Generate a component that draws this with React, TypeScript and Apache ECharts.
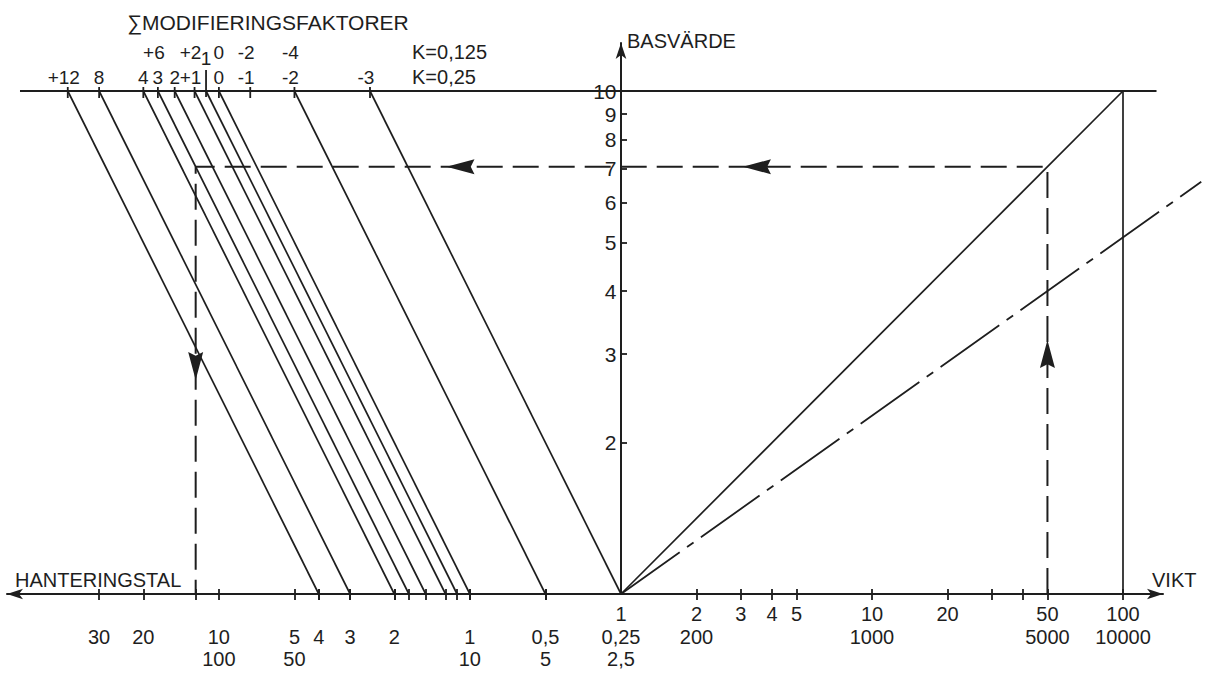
import { useEffect, useRef } from 'react';
import * as echarts from 'echarts';

// Σ modifier values printed above the top line, one row per K
const MOD_K025 = ['+12', '8', '4', '3', '2', '+1', '0', '-1', '-2', '-3'];
const MOD_K0125 = ['+6', '+2', '1', '0', '-2', '-4'];
const K_HIGH = 0.25;
const K_LOW = 0.125;

// Factors (1 + K·Σ) that have a guide line drawn across the left half
const LINE_FACTORS = [4, 3, 2, 1.75, 1.5, 1.25, 1.125, 1, 0.5, 0.25];

// Hanteringstal scale (left, reversed) and its second reading
const H_LABELS = [30, 20, 10, 5, 4, 3, 2, 1, 0.5, 0.25];
const H_ALT: Record<string, number> = { '10': 100, '5': 50, '1': 10, '0.5': 5, '0.25': 2.5 };

// Vikt scale (right) and its second reading
const W_LABELS = [1, 2, 3, 4, 5, 10, 20, 50, 100];
const W_ALT: Record<string, number> = { '2': 200, '10': 1000, '50': 5000, '100': 10000 };
const W_EXTRA_TICKS = [30, 40];

// Basvärde scale (centre)
const B_TICKS = [2, 3, 4, 5, 6, 7, 8, 9, 10];

// Reference lines on the vikt side
const MAIN_DIAGONAL = [[1, 1], [100, 10]]; // [vikt, basvärde]
const DASH_DOT = [[1, 1], [205, 6.6]];
const TOP_LINE_H = 62; // left end, hanteringstal
const TOP_LINE_W = 136; // right end, vikt

// Worked example: vikt 50 -> basvärde 7,07 -> factor 1,75 -> hanteringstal
const EX_VIKT = 50;
const EX_BAS = 7.07;
const EX_FACTOR = 1.75;
const EX_H = EX_FACTOR * EX_BAS;
// arrows along the example: [scale, value, basvärde, rotation]
const EX_ARROWS: [string, number, number, number][] = [
  ['W', 50, 3.0, 0],
  ['W', 3.48, EX_BAS, 90],
  ['H', 1.09, EX_BAS, 90],
  ['H', EX_H, 2.84, 180],
];

// log coordinates: u runs along the horizontal axis, v up the basvärde axis
const uW = (w: number) => Math.log10(w);
const uH = (h: number) => -Math.log10(4 * h);
const vB = (b: number) => Math.log10(b);
const key = (u: number) => (Math.abs(u) < 1e-9 ? 0 : u).toFixed(4);
const fmt = (n: number) => String(n).replace('.', ',');

// layout in pixels
const X0_PX = 621;
const PX_PER_U = 251;
const Y0_PX = 594;
const PX_PER_V = 503;
const GRID_LEFT = 7;
const GRID_RIGHT_PX = 1163; // end of the vikt axis arrow
const WIDE_RIGHT_PX = 1210; // overflow area for the dash-dot line
const GRID_TOP = 43;
const W_PX = 1213;
const H_PX = 677;

const X_MIN = (GRID_LEFT - X0_PX) / PX_PER_U;
const X_MAX = (GRID_RIGHT_PX - X0_PX) / PX_PER_U;
const X_MAX_WIDE = (WIDE_RIGHT_PX - X0_PX) / PX_PER_U;
const Y_MAX = (Y0_PX - GRID_TOP) / PX_PER_V;

const FONT = '"Liberation Sans", Arial, sans-serif';
const INK = '#1e1e1e';

function buildOption() {
  // axis labels: row 1 vikt, row 2 vikt×100 or hanteringstal, row 3 hanteringstal×10
  const rows = new Map<string, string[]>();
  const row = (u: number) => {
    const k = key(u);
    if (!rows.has(k)) rows.set(k, ['', '', '']);
    return rows.get(k)!;
  };
  W_LABELS.forEach((w) => {
    const r = row(uW(w));
    r[0] = fmt(w);
    if (W_ALT[String(w)] !== undefined) r[1] = fmt(W_ALT[String(w)]);
  });
  H_LABELS.forEach((h) => {
    const r = row(uH(h));
    r[1] = fmt(h);
    if (H_ALT[String(h)] !== undefined) r[2] = fmt(H_ALT[String(h)]);
  });
  const labelValues = Array.from(rows.keys()).map(Number);

  const tickValues = [
    ...H_LABELS.filter((h) => h !== 0.25).map(uH),
    uH(EX_H),
    ...LINE_FACTORS.filter((f) => f !== 0.25).map(uH),
    ...W_LABELS.filter((w) => w !== 1).map(uW),
    ...W_EXTRA_TICKS.map(uW),
  ];

  const lineStyle = { color: INK, width: 1.7 };
  const seg = (data: number[][], style: any = lineStyle, onWide = false) => ({
    type: 'line',
    data,
    symbol: 'none',
    silent: true,
    xAxisIndex: onWide ? 2 : 0,
    yAxisIndex: onWide ? 1 : 0,
    lineStyle: style,
    z: 3,
  });

  const series: any[] = [];

  // factor guide lines: hanteringstal = factor × basvärde
  LINE_FACTORS.forEach((f) => {
    series.push(seg([[uH(10 * f), vB(10)], [uH(f), vB(1)]]));
  });

  // top line at basvärde 10
  series.push(seg([[uH(TOP_LINE_H), vB(10)], [uW(TOP_LINE_W), vB(10)]], { color: INK, width: 2 }));
  // vikt side
  series.push(seg(MAIN_DIAGONAL.map(([w, b]) => [uW(w), vB(b)])));
  series.push(seg([[uW(100), vB(1)], [uW(100), vB(10)]]));
  series.push(
    seg(DASH_DOT.map(([w, b]) => [uW(w), vB(b)]), { color: INK, width: 1.8, type: [72, 9, 8, 9] }, true)
  );

  // worked example path
  series.push(
    seg(
      [
        [uW(EX_VIKT), vB(1)],
        [uW(EX_VIKT), vB(EX_BAS)],
        [uH(EX_H), vB(EX_BAS)],
        [uH(EX_H), vB(1)],
      ],
      { color: INK, width: 2, type: [26, 10] }
    )
  );

  // arrow heads on the example path
  series.push({
    type: 'scatter',
    silent: true,
    symbol: 'path://M7,0 L14,30 L7,26 L0,30 Z',
    symbolSize: [15, 28],
    itemStyle: { color: INK, opacity: 1 },
    z: 5,
    data: EX_ARROWS.map(([s, x, b, rot]) => ({
      value: [s === 'W' ? uW(x) : uH(x), vB(b)],
      symbolRotate: rot,
    })),
  });

  // ticks on the top line
  const topFactors = Array.from(
    new Set([
      ...MOD_K025.map((m) => 1 + K_HIGH * Number(m)),
      ...MOD_K0125.map((m) => 1 + K_LOW * Number(m)),
    ])
  );
  series.push({
    type: 'scatter',
    silent: true,
    symbol: 'rect',
    itemStyle: { color: INK, opacity: 1 },
    z: 4,
    data: topFactors.map((f) => {
      const tall = Math.abs(f - 1.125) < 1e-9;
      return {
        value: [uH(10 * f), vB(10)],
        symbolSize: tall ? [1.8, 27] : [1.8, 11],
        symbolOffset: tall ? [0, -7.5] : [0, 1.5],
      };
    }),
  });

  const labelText = {
    color: INK,
    fontFamily: FONT,
    opacity: 1,
  };

  // modifier labels, one row per K
  const modLabels = (mods: string[], k: number, dist: number) => ({
    type: 'scatter',
    silent: true,
    symbolSize: 1,
    itemStyle: { color: 'rgba(0,0,0,0)', opacity: 1 },
    z: 6,
    data: mods.map((m) => {
      const f = 1 + k * Number(m);
      const signed = m.startsWith('+') || m.startsWith('-');
      const low = k === K_LOW && Math.abs(f - 1.125) < 1e-9;
      return {
        value: [uH(10 * f), vB(10)],
        label: {
          ...labelText,
          show: true,
          position: 'top',
          distance: low ? 23 : dist,
          offset: [signed ? -4 : 0, 0],
          formatter: m,
          fontSize: 19,
        },
      };
    }),
  });
  series.push(modLabels(MOD_K025, K_HIGH, 4));
  series.push(modLabels(MOD_K0125, K_LOW, 29));

  // basvärde labels beside the centre axis
  series.push({
    type: 'scatter',
    silent: true,
    symbolSize: 1,
    itemStyle: { color: 'rgba(0,0,0,0)', opacity: 1 },
    z: 6,
    data: B_TICKS.map((b) => ({
      value: [0, vB(b)],
      label: {
        ...labelText,
        show: true,
        position: 'left',
        distance: 4,
        formatter: String(b),
        fontSize: 21,
      },
    })),
  });

  const axisLineStyle = { color: INK, width: 2 };
  const hiddenAxis = {
    type: 'value',
    show: false,
    axisLine: { show: false },
    axisTick: { show: false },
    axisLabel: { show: false },
    splitLine: { show: false },
  };

  return {
    animation: false,
    backgroundColor: '#ffffff',
    grid: [
      {
        left: GRID_LEFT,
        right: W_PX - GRID_RIGHT_PX,
        top: GRID_TOP,
        bottom: H_PX - Y0_PX,
        containLabel: false,
        outerBoundsMode: 'none',
      },
      {
        left: GRID_LEFT,
        right: W_PX - WIDE_RIGHT_PX,
        top: GRID_TOP,
        bottom: H_PX - Y0_PX,
        containLabel: false,
        outerBoundsMode: 'none',
      },
    ],
    xAxis: [
      {
        type: 'value',
        gridIndex: 0,
        min: X_MIN,
        max: X_MAX,
        position: 'bottom',
        axisLine: {
          show: true,
          symbol: ['arrow', 'arrow'],
          symbolSize: [8, 16],
          lineStyle: axisLineStyle,
        },
        axisTick: {
          show: true,
          length: 6,
          customValues: tickValues,
          lineStyle: { color: INK, width: 1.8 },
        },
        axisLabel: {
          show: true,
          customValues: labelValues,
          formatter: (val: number) => (rows.get(key(val)) || ['']).join('\n').replace(/\n+$/, ''),
          color: INK,
          fontFamily: FONT,
          fontSize: 20,
          lineHeight: 22.5,
          verticalAlign: 'top',
          margin: 9,
        },
        splitLine: { show: false },
      },
      {
        type: 'value',
        gridIndex: 0,
        min: X_MIN,
        max: X_MAX,
        position: 'bottom',
        axisLine: { show: false },
        axisLabel: { show: false },
        splitLine: { show: false },
        axisTick: {
          show: true,
          inside: true,
          length: 5,
          customValues: tickValues,
          lineStyle: { color: INK, width: 1.8 },
        },
      },
      { ...hiddenAxis, gridIndex: 1, min: X_MIN, max: X_MAX_WIDE },
    ],
    yAxis: [
      {
        type: 'value',
        gridIndex: 0,
        min: 0,
        max: Y_MAX,
        axisLine: {
          show: true,
          onZero: true,
          symbol: ['none', 'arrow'],
          symbolSize: [8, 16],
          lineStyle: axisLineStyle,
        },
        axisTick: {
          show: true,
          inside: true,
          length: 6,
          customValues: B_TICKS.map(vB),
          lineStyle: { color: INK, width: 1.8 },
        },
        axisLabel: { show: false },
        splitLine: { show: false },
      },
      { ...hiddenAxis, gridIndex: 1, min: 0, max: Y_MAX },
    ],
    graphic: [
      {
        type: 'text',
        left: 127,
        top: 12,
        style: { text: '∑MODIFIERINGSFAKTORER', fill: INK, font: `21px ${FONT}` },
      },
      {
        type: 'text',
        left: 412,
        top: 42,
        style: { text: 'K=0,125', fill: INK, font: `20px ${FONT}` },
      },
      {
        type: 'text',
        left: 412,
        top: 67,
        style: { text: 'K=0,25', fill: INK, font: `20px ${FONT}` },
      },
      {
        type: 'text',
        left: 627,
        top: 31,
        style: { text: 'BASVÄRDE', fill: INK, font: `20px ${FONT}` },
      },
      {
        type: 'text',
        left: 1152,
        top: 570,
        style: { text: 'VIKT', fill: INK, font: `20px ${FONT}` },
      },
      {
        type: 'text',
        left: 15,
        top: 570,
        style: { text: 'HANTERINGSTAL', fill: INK, font: `20px ${FONT}` },
      },
    ],
    series,
  };
}

export default function App() {
  const ref = useRef<HTMLDivElement>(null);
  useEffect(() => {
    if (!ref.current) return;
    const chart = echarts.init(ref.current, null, { renderer: 'svg' });
    chart.setOption(buildOption() as any);
    return () => chart.dispose();
  }, []);
  return (
    <div
      ref={ref}
      style={{ position: 'absolute', left: 0, top: 0, width: W_PX, height: H_PX, background: '#fff' }}
    />
  );
}
